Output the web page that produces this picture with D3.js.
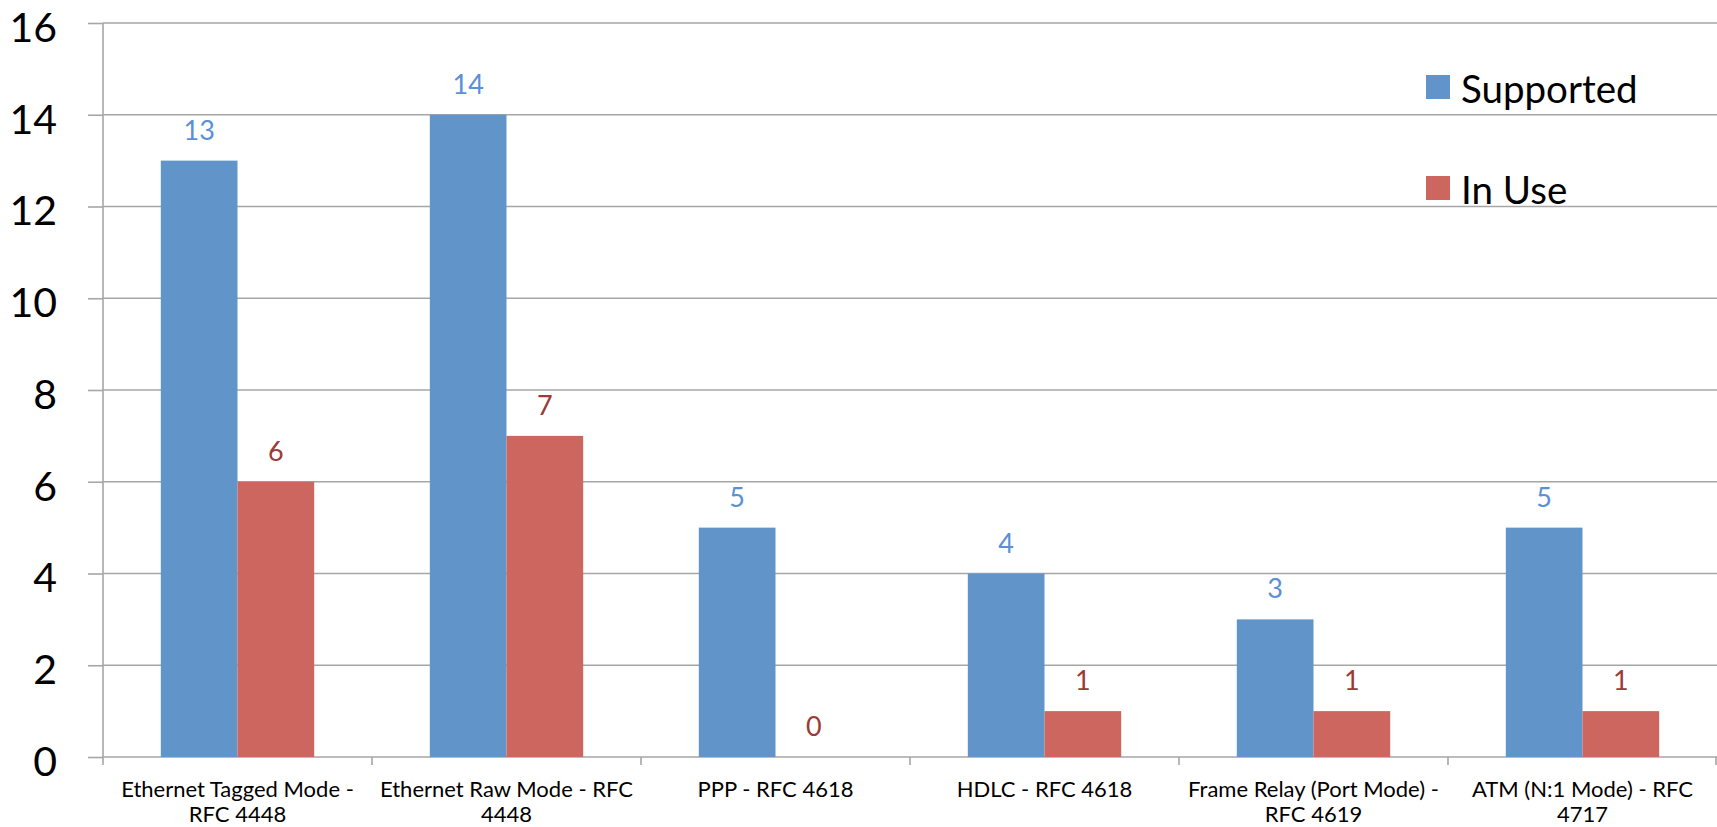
<!DOCTYPE html>
<html>
<head>
<meta charset="utf-8">
<script src="https://cdn.jsdelivr.net/npm/d3@7"></script>
<style>
  html, body { margin: 0; padding: 0; background: #fff; }
  svg { display: block; }
  text { font-family: Lato, "Open Sans", sans-serif; }
</style>
</head>
<body>
<svg id="chart" width="1717" height="827"></svg>
<script>
const categories = [
  "Ethernet Tagged Mode - RFC 4448",
  "Ethernet Raw Mode - RFC 4448",
  "PPP - RFC 4618",
  "HDLC - RFC 4618",
  "Frame Relay (Port Mode) - RFC 4619",
  "ATM (N:1 Mode) - RFC 4717"
];
const categoryLines = [
  ["Ethernet Tagged Mode -", "RFC 4448"],
  ["Ethernet Raw Mode - RFC", "4448"],
  ["PPP - RFC 4618"],
  ["HDLC - RFC 4618"],
  ["Frame Relay (Port Mode) -", "RFC 4619"],
  ["ATM (N:1 Mode) - RFC", "4717"]
];
const seriesNames = ["Supported", "In Use"];
const supported = [13, 14, 5, 4, 3, 5];
const inUse = [6, 7, 0, 1, 1, 1];
const yTicks = [0, 2, 4, 6, 8, 10, 12, 14, 16];

const barColors = ["#6195C9", "#CC665F"];
const labelColors = ["#5B8FD6", "#9B3A36"];

const svg = d3.select("#chart");
const margin = { left: 103, right: 0, top: 23, bottom: 70 };
const W = 1717, H = 827;
const yBottom = 757;

const x0 = d3.scaleBand().domain(categories).range([margin.left, W]).padding(0);
const x1 = d3.scaleBand().domain(seriesNames).range([0, x0.bandwidth()]).paddingInner(0).paddingOuter(0.754);
const y = d3.scaleLinear().domain([0, 16]).range([yBottom, margin.top]);

const gridColor = "#A6A6A6";

// gridlines + y ticks
const yAxis = d3.axisLeft(y).tickValues(yTicks).tickSize(15).tickFormat(d => d);
const gy = svg.append("g").attr("transform", `translate(${margin.left},0)`).call(yAxis);
gy.select(".domain").remove();
gy.selectAll(".tick line").attr("stroke", gridColor).attr("stroke-width", 1.6);
gy.selectAll(".tick text")
  .attr("x", -46).attr("dy", "0.45em")
  .attr("fill", "#000").style("font-size", "41px").attr("text-anchor", "end");

svg.append("g").selectAll("line").data(yTicks).join("line")
  .attr("x1", margin.left).attr("x2", W)
  .attr("y1", d => y(d)).attr("y2", d => y(d))
  .attr("stroke", gridColor).attr("stroke-width", 1.6);

// y axis line
svg.append("line").attr("x1", margin.left).attr("x2", margin.left)
  .attr("y1", y(16)).attr("y2", yBottom + 8)
  .attr("stroke", gridColor).attr("stroke-width", 1.6);

// x axis boundary ticks
const boundaries = categories.map(c => x0(c) + x0.bandwidth()).slice(0, -1).concat([W - 1]);
svg.append("g").selectAll("line").data(boundaries).join("line")
  .attr("x1", d => d).attr("x2", d => d)
  .attr("y1", yBottom).attr("y2", yBottom + 8)
  .attr("stroke", gridColor).attr("stroke-width", 1.6);

// bars
const rows = categories.map((c, i) => ({ cat: c, vals: [supported[i], inUse[i]] }));
const groups = svg.append("g").selectAll("g").data(rows).join("g")
  .attr("transform", d => `translate(${x0(d.cat)},0)`);

groups.selectAll("rect").data(d => d.vals.map((v, j) => ({ v, s: seriesNames[j], j })))
  .join("rect")
  .attr("x", d => x1(d.s))
  .attr("width", x1.bandwidth())
  .attr("y", d => y(d.v))
  .attr("height", d => yBottom - y(d.v))
  .attr("fill", d => barColors[d.j]);

groups.selectAll("text.val").data(d => d.vals.map((v, j) => ({ v, s: seriesNames[j], j })))
  .join("text").attr("class", "val")
  .attr("x", d => x1(d.s) + x1.bandwidth() / 2)
  .attr("y", d => y(d.v) - 21)
  .attr("text-anchor", "middle")
  .attr("fill", d => labelColors[d.j])
  .style("font-size", "27px")
  .text(d => d.v);

// x labels
const xl = svg.append("g").selectAll("text").data(categories).join("text")
  .attr("x", d => x0(d) + x0.bandwidth() / 2)
  .attr("y", yBottom + 40)
  .attr("text-anchor", "middle")
  .attr("fill", "#000")
  .style("font-size", "22px");
xl.each(function(d, i) {
  const t = d3.select(this);
  categoryLines[i].forEach((line, k) => {
    t.append("tspan").attr("x", x0(d) + x0.bandwidth() / 2).attr("dy", k === 0 ? 0 : 25).text(line);
  });
});

// legend
const legend = svg.append("g").selectAll("g").data(seriesNames).join("g")
  .attr("transform", (d, i) => `translate(1426, ${75 + i * 101})`);
legend.append("rect").attr("width", 24).attr("height", 24).attr("fill", (d, i) => barColors[i]);
legend.append("text").attr("x", 35).attr("y", 28)
  .attr("fill", "#000").style("font-size", "38.5px").text(d => d);
</script>
</body>
</html>
